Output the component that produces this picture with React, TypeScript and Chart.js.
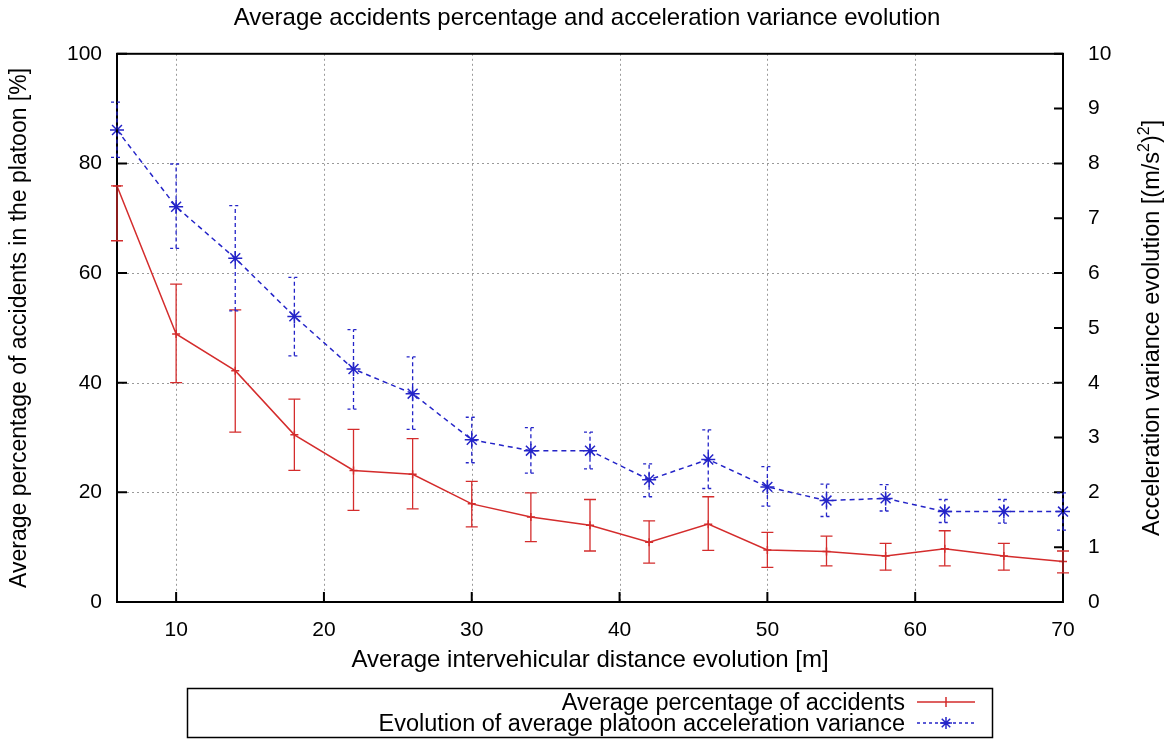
import React, { useEffect, useRef } from "react";
import { Chart, registerables } from "chart.js";
Chart.register(...registerables);

const RED = "#d42c2c";
const BLUE = "#2424c8";
const FONT = "'Liberation Sans', Arial, sans-serif";

const titleText = "Average accidents percentage and acceleration variance evolution";
const xTitle = "Average intervehicular distance evolution [m]";
const yLeftTitle = "Average percentage of accidents in the platoon [%]";
const yRightTitleParts = ["Acceleration variance evolution [(m/s", "2", ")", "2", "]"];
const legendLabels = [
  "Average percentage of accidents",
  "Evolution of average platoon acceleration variance",
];

const xTicks = [10, 20, 30, 40, 50, 60, 70];
const leftTicks = [0, 20, 40, 60, 80, 100];
const rightTicks = [0, 1, 2, 3, 4, 5, 6, 7, 8, 9, 10];

const distances = [6, 10, 14, 18, 22, 26, 30, 34, 38, 42, 46, 50, 54, 58, 62, 66, 70];
const accidents = [75.9, 48.9, 42.2, 30.5, 24.0, 23.3, 17.9, 15.5, 14.0, 10.9, 14.2, 9.5, 9.2, 8.4, 9.7, 8.4, 7.4];
const accidentsLow = [65.9, 40.0, 31.0, 24.0, 16.7, 17.0, 13.7, 11.0, 9.3, 7.1, 9.4, 6.3, 6.6, 5.8, 6.6, 5.8, 5.3];
const accidentsHigh = [75.9, 58.0, 53.3, 37.0, 31.5, 29.8, 22.0, 19.9, 18.7, 14.8, 19.2, 12.7, 12.0, 10.7, 13.0, 10.7, 9.3];
const variance = [8.61, 7.21, 6.27, 5.21, 4.25, 3.8, 2.96, 2.76, 2.76, 2.23, 2.6, 2.1, 1.85, 1.89, 1.65, 1.65, 1.65];
const varianceLow = [8.11, 6.45, 5.31, 4.49, 3.52, 3.15, 2.54, 2.35, 2.43, 1.92, 2.07, 1.75, 1.56, 1.66, 1.45, 1.44, 1.31];
const varianceHigh = [9.12, 7.99, 7.23, 5.92, 4.97, 4.47, 3.37, 3.18, 3.1, 2.52, 3.14, 2.47, 2.15, 2.14, 1.87, 1.87, 1.99];

const framePlugin = {
  id: "frameAndErrors",
  beforeDatasetsDraw(chart: any) {
    const { ctx, chartArea, scales } = chart;
    const { left, right, top, bottom } = chartArea;
    ctx.save();
    ctx.strokeStyle = "#9a9a9a";
    ctx.lineWidth = 1;
    ctx.setLineDash([2, 3]);
    ctx.beginPath();
    for (const v of xTicks) {
      if (v <= 6 || v >= 70) continue;
      const x = Math.round(scales.x.getPixelForValue(v)) + 0.5;
      ctx.moveTo(x, top);
      ctx.lineTo(x, bottom);
    }
    for (const v of leftTicks) {
      if (v <= 0 || v >= 100) continue;
      const y = Math.round(scales.y.getPixelForValue(v)) + 0.5;
      ctx.moveTo(left, y);
      ctx.lineTo(right, y);
    }
    ctx.stroke();
    ctx.restore();
  },
  afterDatasetsDraw(chart: any) {
    const { ctx, chartArea, scales } = chart;
    const { left, right, top, bottom } = chartArea;
    ctx.save();
    ctx.strokeStyle = "#000";
    ctx.lineWidth = 2;
    ctx.setLineDash([]);
    ctx.strokeRect(left, top, right - left, bottom - top);
    ctx.beginPath();
    for (const v of xTicks) {
      const x = scales.x.getPixelForValue(v);
      ctx.moveTo(x, bottom);
      ctx.lineTo(x, bottom - 10);
    }
    for (const v of leftTicks) {
      const y = scales.y.getPixelForValue(v);
      ctx.moveTo(left, y);
      ctx.lineTo(left + 10, y);
    }
    for (const v of rightTicks) {
      const y = scales.y1.getPixelForValue(v);
      ctx.moveTo(right, y);
      ctx.lineTo(right - 9, y);
    }
    ctx.stroke();

    const specs = [
      { scale: scales.y, low: accidentsLow, high: accidentsHigh, color: RED, dash: [] as number[] },
      { scale: scales.y1, low: varianceLow, high: varianceHigh, color: BLUE, dash: [4, 3] },
    ];
    for (const s of specs) {
      ctx.strokeStyle = s.color;
      ctx.lineWidth = 1.3;
      for (let i = 0; i < distances.length; i++) {
        const x = scales.x.getPixelForValue(distances[i]);
        const yl = s.scale.getPixelForValue(s.low[i]);
        const yh = s.scale.getPixelForValue(s.high[i]);
        ctx.setLineDash(s.dash);
        ctx.beginPath();
        ctx.moveTo(x, yl);
        ctx.lineTo(x, yh);
        ctx.stroke();
        ctx.setLineDash(s.dash.length ? [3, 3] : []);
        ctx.beginPath();
        ctx.moveTo(x - 6, yl);
        ctx.lineTo(x + 6, yl);
        ctx.moveTo(x - 6, yh);
        ctx.lineTo(x + 6, yh);
        ctx.stroke();
      }
    }
    ctx.restore();
  },
  afterDraw(chart: any) {
    const { ctx, chartArea } = chart;
    // right axis title (reads bottom-to-top) with superscripts
    ctx.save();
    ctx.fillStyle = "#000";
    ctx.textBaseline = "alphabetic";
    ctx.textAlign = "left";
    const big = `23.5px ${FONT}`;
    const small = `16px ${FONT}`;
    let total = 0;
    yRightTitleParts.forEach((p, i) => {
      ctx.font = i % 2 === 1 ? small : big;
      total += ctx.measureText(p).width;
    });
    ctx.translate(1159, (chartArea.top + chartArea.bottom) / 2);
    ctx.rotate(-Math.PI / 2);
    let pos = -total / 2;
    yRightTitleParts.forEach((p, i) => {
      const sup = i % 2 === 1;
      ctx.font = sup ? small : big;
      ctx.fillText(p, pos, sup ? -10 : 0);
      pos += ctx.measureText(p).width;
    });
    ctx.restore();

    // legend
    ctx.save();
    ctx.strokeStyle = "#000";
    ctx.lineWidth = 1.5;
    ctx.strokeRect(187.5, 688.5, 805, 49);
    ctx.fillStyle = "#000";
    ctx.font = `23.5px ${FONT}`;
    ctx.textAlign = "right";
    ctx.textBaseline = "alphabetic";
    const base = [710, 731];
    const rows = [702, 723];
    ctx.fillText(legendLabels[0], 905, base[0]);
    ctx.fillText(legendLabels[1], 905, base[1]);
    ctx.strokeStyle = RED;
    ctx.lineWidth = 1.5;
    ctx.beginPath();
    ctx.moveTo(917, rows[0]);
    ctx.lineTo(975, rows[0]);
    ctx.moveTo(946, rows[0] - 5);
    ctx.lineTo(946, rows[0] + 5);
    ctx.stroke();
    ctx.strokeStyle = BLUE;
    ctx.setLineDash([3, 3]);
    ctx.beginPath();
    ctx.moveTo(917, rows[1]);
    ctx.lineTo(975, rows[1]);
    ctx.stroke();
    ctx.setLineDash([]);
    ctx.beginPath();
    const r = 6;
    ctx.moveTo(946 - r, rows[1]);
    ctx.lineTo(946 + r, rows[1]);
    ctx.moveTo(946, rows[1] - r);
    ctx.lineTo(946, rows[1] + r);
    const d = r * 0.707;
    ctx.moveTo(946 - d, rows[1] - d);
    ctx.lineTo(946 + d, rows[1] + d);
    ctx.moveTo(946 - d, rows[1] + d);
    ctx.lineTo(946 + d, rows[1] - d);
    ctx.stroke();
    ctx.restore();
  },
};

export default function App() {
  const ref = useRef<HTMLCanvasElement | null>(null);
  useEffect(() => {
    if (!ref.current) return;
    const chart = new Chart(ref.current, {
      type: "line",
      data: {
        datasets: [
          {
            label: legendLabels[0],
            data: distances.map((x, i) => ({ x, y: accidents[i] })),
            yAxisID: "y",
            borderColor: RED,
            backgroundColor: RED,
            borderWidth: 1.5,
            pointStyle: "cross",
            pointRadius: 4,
            pointBorderWidth: 1.5,
            pointBorderColor: RED,
            tension: 0,
            clip: false as any,
          },
          {
            label: legendLabels[1],
            data: distances.map((x, i) => ({ x, y: variance[i] })),
            yAxisID: "y1",
            borderColor: BLUE,
            backgroundColor: BLUE,
            borderWidth: 1.5,
            borderDash: [5, 4],
            pointStyle: "star",
            pointRadius: 7,
            pointBorderWidth: 1.5,
            pointBorderColor: BLUE,
            tension: 0,
            clip: false as any,
          },
        ],
      },
      options: {
        animation: false,
        responsive: false,
        layout: { padding: { left: 0, right: 0, top: 0, bottom: 58 } },
        plugins: {
          legend: { display: false },
          tooltip: { enabled: false },
          title: {
            display: true,
            text: titleText,
            color: "#000",
            font: { family: FONT, size: 24, weight: "normal" },
            padding: { top: 4, bottom: 21 },
          },
        },
        scales: {
          x: {
            type: "linear",
            min: 6,
            max: 70,
            afterBuildTicks: (s: any) => {
              s.ticks = xTicks.map((v) => ({ value: v }));
            },
            afterFit: (s: any) => {
              s.height = 82;
            },
            grid: { display: false, drawTicks: false },
            border: { display: false },
            ticks: {
              color: "#000",
              font: { family: FONT, size: 21 },
              padding: 16,
              maxRotation: 0,
              autoSkip: false,
            },
            title: {
              display: true,
              text: xTitle,
              color: "#000",
              font: { family: FONT, size: 24 },
              padding: { top: 0, bottom: 9 },
            },
          },
          y: {
            type: "linear",
            position: "left",
            min: 0,
            max: 100,
            afterBuildTicks: (s: any) => {
              s.ticks = leftTicks.map((v) => ({ value: v }));
            },
            afterFit: (s: any) => {
              s.width = 117;
            },
            grid: { display: false, drawTicks: false },
            border: { display: false },
            ticks: { color: "#000", font: { family: FONT, size: 21 }, padding: 15 },
            title: {
              display: true,
              text: yLeftTitle,
              color: "#000",
              font: { family: FONT, size: 23 },
              padding: { top: 6, bottom: 0 },
            },
          },
          y1: {
            type: "linear",
            position: "right",
            min: 0,
            max: 10,
            afterBuildTicks: (s: any) => {
              s.ticks = rightTicks.map((v) => ({ value: v }));
            },
            afterFit: (s: any) => {
              s.width = 111;
            },
            grid: { display: false, drawTicks: false },
            border: { display: false },
            ticks: { color: "#000", font: { family: FONT, size: 21 }, padding: 25 },
          },
        },
      },
      plugins: [framePlugin],
    });
    return () => chart.destroy();
  }, []);
  return (
    <div style={{ position: "absolute", left: 0, top: 0, width: 1174, height: 742, background: "#fff" }}>
      <canvas ref={ref} width={1174} height={742} />
    </div>
  );
}
